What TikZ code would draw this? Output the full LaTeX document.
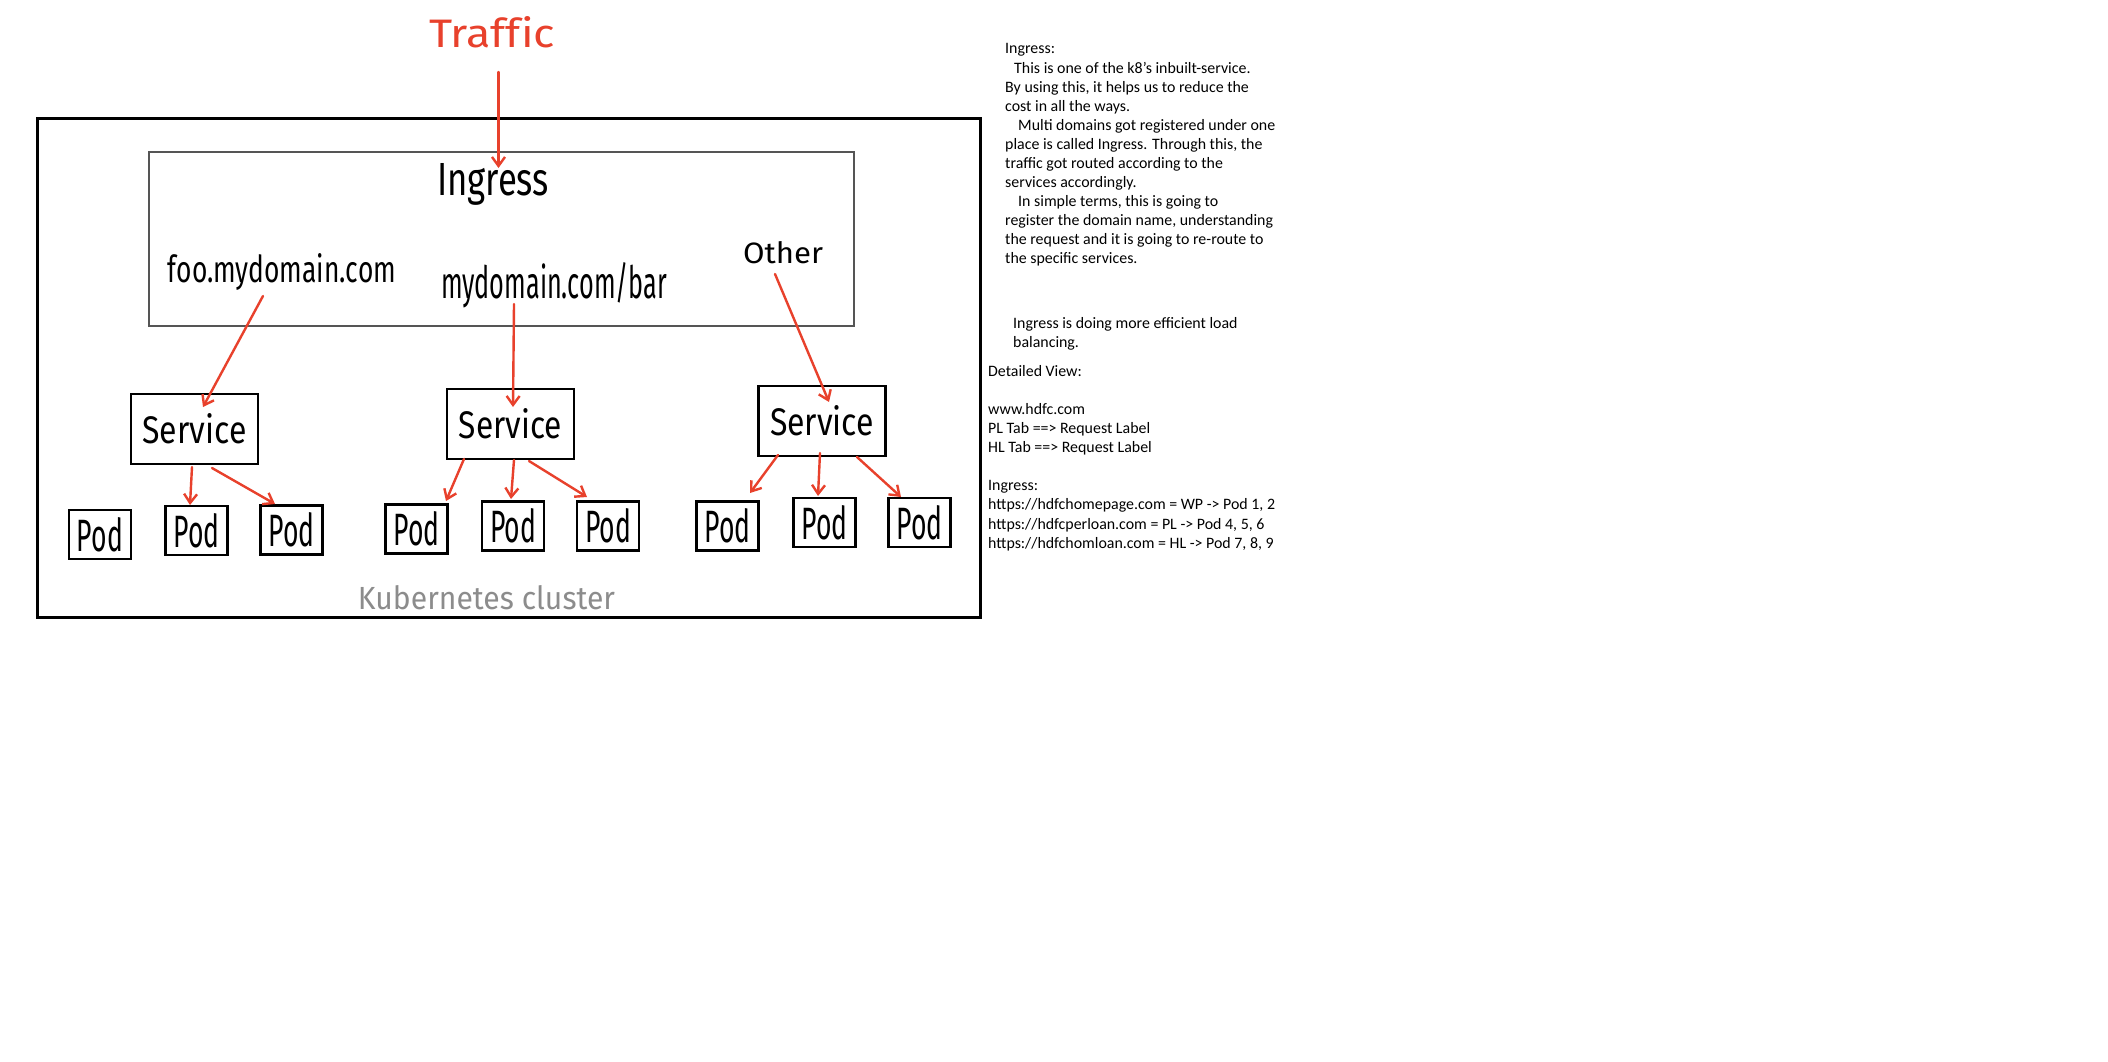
\documentclass[tikz,border=0pt]{standalone}
\usepackage{fontspec}
\setmainfont{Carlito}
\newfontfamily\hand[Ligatures=NoCommon]{Fira Sans}
\usetikzlibrary{arrows.meta}
\definecolor{kred}{HTML}{E8412C}
\definecolor{kgray}{HTML}{8C8C8C}
\definecolor{boxgray}{HTML}{555555}
\begin{document}
\begin{tikzpicture}[x=1pt,y=-1pt,
  handtxt/.style={font=\hand, inner sep=0pt, anchor=base},
  redarrow/.style={draw=kred, line width=2.4pt, line cap=round, -{Straight Barb[length=9pt,width=13pt]}},
  svcbox/.style={draw=black, line width=2.8pt, minimum width=127pt, minimum height=70pt, inner sep=0pt, font=\hand},
  podbox/.style={draw=black, line width=2.8pt, minimum width=62pt, minimum height=49pt, inner sep=0pt, font=\hand},
  rt/.style={anchor=base west, inner sep=0pt, font=\fontsize{15.9}{19}\selectfont}]
\useasboundingbox (0,0) rectangle (2108,1062);
\fill[white] (0,0) rectangle (2108,1062);
% cluster and ingress boxes
\node[draw=black, line width=3pt, minimum width=943pt, minimum height=498pt, inner sep=0pt] (cluster) at (508.5,368) {};
\node[draw=boxgray, line width=1.6pt, minimum width=705pt, minimum height=174pt, inner sep=0pt] (ingbox) at (501.5,239) {};
% labels
\node[handtxt, text=kred] (traffic) at (492,48) {\resizebox{126pt}{31pt}{Traffic}};
\node[handtxt] (ingress) at (493,195) {\resizebox{112pt}{32pt}{Ingress}};
\node[handtxt] (foo) at (282,282) {\resizebox{228pt}{29pt}{foo.mydomain.com}};
\node[handtxt] (bar) at (554,298) {\resizebox{226pt}{36pt}{mydomain.com/bar}};
\node[handtxt] (other) at (783,263) {\resizebox{80pt}{22pt}{Other}};
\node[handtxt, text=kgray] (kc) at (486.5,609) {\resizebox{257pt}{24pt}{Kubernetes cluster}};
% services
\node[svcbox] (s1) at (194.5,429) {\raisebox{-3pt}{\resizebox{104pt}{30pt}{Service}}};
\node[svcbox] (s2) at (510.5,424) {\raisebox{-3pt}{\resizebox{103pt}{30pt}{Service}}};
\node[svcbox] (s3) at (822,421) {\raisebox{-3pt}{\resizebox{104pt}{30pt}{Service}}};
% pods
\node[podbox] (p1) at (100,534.5) {\resizebox{46pt}{34pt}{Pod}};
\node[podbox] (p2) at (196.5,530.5) {\resizebox{46pt}{34pt}{Pod}};
\node[podbox] (p3) at (291.5,530) {\resizebox{46pt}{34pt}{Pod}};
\node[podbox] (p4) at (416.5,529) {\resizebox{46pt}{34pt}{Pod}};
\node[podbox] (p5) at (513,526) {\resizebox{46pt}{34pt}{Pod}};
\node[podbox] (p6) at (608,526) {\resizebox{46pt}{34pt}{Pod}};
\node[podbox] (p7) at (727.5,526) {\resizebox{46pt}{34pt}{Pod}};
\node[podbox] (p8) at (824.5,522.5) {\resizebox{46pt}{34pt}{Pod}};
\node[podbox] (p9) at (919.5,522.5) {\resizebox{46pt}{34pt}{Pod}};
% connector end points
\coordinate (tA) at (498.5,72);   \coordinate (tB) at (498.5,168);
\coordinate (fA) at (263,296);    \coordinate (fB) at (203,407);
\coordinate (bA) at (514,304);    \coordinate (bB) at (513,407);
\coordinate (oA) at (775,274);    \coordinate (oB) at (829,402);
\coordinate (s1a) at (192,467);   \coordinate (p2a) at (190,505);
\coordinate (s1b) at (212,468);   \coordinate (p3a) at (275,504);
\coordinate (s2a) at (464,459);   \coordinate (p4a) at (446,501);
\coordinate (s2b) at (514,460);   \coordinate (p5a) at (511,499);
\coordinate (s2c) at (529,461);   \coordinate (p6a) at (587,497);
\coordinate (s3a) at (778,455);   \coordinate (p7a) at (750,493);
\coordinate (s3b) at (820,453);   \coordinate (p8a) at (818,496);
\coordinate (s3c) at (857,457);   \coordinate (p9a) at (901,497);
\draw[redarrow] (tA) -- (tB);
\draw[redarrow] (fA) -- (fB);
\draw[redarrow] (bA) -- (bB);
\draw[redarrow] (oA) -- (oB);
\draw[redarrow] (s1a) -- (p2a);
\draw[redarrow] (s1b) -- (p3a);
\draw[redarrow] (s2a) -- (p4a);
\draw[redarrow] (s2b) -- (p5a);
\draw[redarrow] (s2c) -- (p6a);
\draw[redarrow] (s3a) -- (p7a);
\draw[redarrow] (s3b) -- (p8a);
\draw[redarrow] (s3c) -- (p9a);
% right-hand notes
\node[rt] (r1) at (1005,54) {Ingress:};
\node[rt] (r2) at (1014,73.1) {This is one of the k8's inbuilt-service.};
\node[rt] (r3) at (1005,92.1) {By using this, it helps us to reduce the};
\node[rt] (r4) at (1005,111.2) {cost in all the ways.};
\node[rt] (r5) at (1018,130.2) {Multi domains got registered under one};
\node[rt] (r6) at (1005,149.3) {place is called Ingress. Through this, the};
\node[rt] (r7) at (1005,168.4) {traffic got routed according to the};
\node[rt] (r8) at (1005,187.4) {services accordingly.};
\node[rt] (r9) at (1018,206.5) {In simple terms, this is going to};
\node[rt] (r10) at (1005,225.5) {register the domain name, understanding};
\node[rt] (r11) at (1005,244.6) {the request and it is going to re-route to};
\node[rt] (r12) at (1005,263.7) {the specific services.};
\node[rt] (m1) at (1013,328) {Ingress is doing more efficient load};
\node[rt] (m2) at (1013,347) {balancing.};
\node[rt] (d1) at (988,376.5) {Detailed View:};
\node[rt] (d2) at (988,414.6) {www.hdfc.com};
\node[rt] (d3) at (988,433.7) {PL Tab ==> Request Label};
\node[rt] (d4) at (988,452.7) {HL Tab ==> Request Label};
\node[rt] (d5) at (988,490.9) {Ingress:};
\node[rt] (d6) at (988,509.9) {https://hdfchomepage.com = WP -> Pod 1, 2};
\node[rt] (d7) at (988,529) {https://hdfcperloan.com = PL -> Pod 4, 5, 6};
\node[rt] (d8) at (988,548) {https://hdfchomloan.com = HL -> Pod 7, 8, 9};
\end{tikzpicture}
\end{document}
